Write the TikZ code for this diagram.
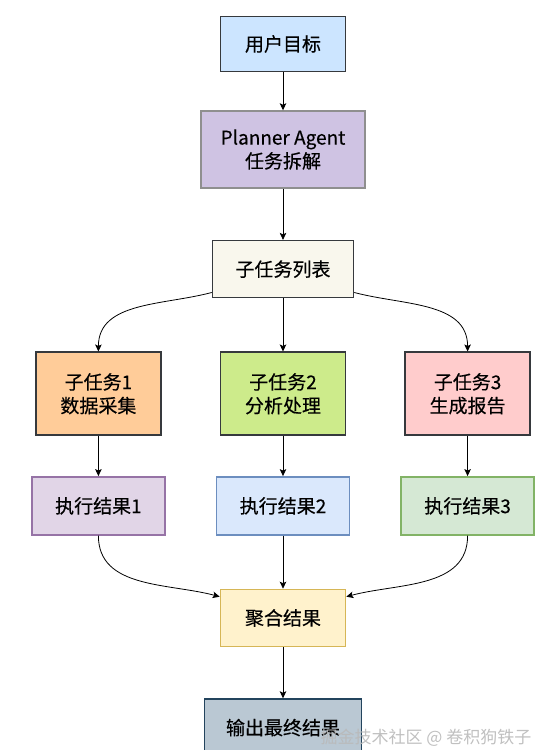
\documentclass[tikz,border=0pt]{standalone}
\usepackage{fontspec}
\setmainfont{Noto Sans CJK SC}[FakeBold=0.3]
\newfontfamily\markfont{Noto Sans CJK SC}
\usetikzlibrary{positioning,arrows.meta}

\definecolor{darkline}{HTML}{36393D}
\definecolor{goalfill}{HTML}{CCE5FF}
\definecolor{planfill}{HTML}{CFC3E3}
\definecolor{planline}{HTML}{8F8F8F}
\definecolor{listfill}{HTML}{F9F7ED}
\definecolor{onefill}{HTML}{FFCC99}
\definecolor{twofill}{HTML}{CDEB8B}
\definecolor{threefill}{HTML}{FFCCCC}
\definecolor{resAfill}{HTML}{E1D5E7}
\definecolor{resAline}{HTML}{9673A6}
\definecolor{resBfill}{HTML}{DAE8FC}
\definecolor{resBline}{HTML}{6C8EBF}
\definecolor{resCfill}{HTML}{D5E8D4}
\definecolor{resCline}{HTML}{82B366}
\definecolor{aggfill}{HTML}{FFF2CC}
\definecolor{aggline}{HTML}{D6B656}
\definecolor{outfill}{HTML}{BAC8D3}
\definecolor{outline}{HTML}{23445D}

\begin{document}
\begin{tikzpicture}[x=1pt, y=1pt, node distance=40pt,
  font=\fontsize{19}{23.6}\selectfont,
  box/.style={draw=#1, line width=1.6pt, align=center, inner sep=0pt,
    minimum width=125pt, minimum height=57pt},
  flow/.style={-{Stealth[length=7pt,width=6.5pt,inset=1.5pt]}, line width=0.8pt}]
  \useasboundingbox (0,0) rectangle (549,750);

  \node[box=darkline, fill=goalfill, minimum height=55pt] (goal) at (283,706) {用户目标};
  \node[box=planline, fill=planfill, minimum width=164pt, minimum height=77pt] (planner) [below=38pt of goal] {Planner Agent\\任务拆解};
  \node[box=darkline, fill=listfill, minimum width=141pt] (tasks) [below=51pt of planner] {子任务列表};

  % three sub tasks
  \node[box=darkline, fill=twofill, minimum height=83pt] (sub2) [below=53pt of tasks] {子任务2\\分析处理};
  \node[box=darkline, fill=onefill, minimum height=83pt] (sub1) [left=58pt of sub2] {子任务1\\数据采集};
  \node[box=darkline, fill=threefill, minimum height=83pt] (sub3) [right=58pt of sub2] {子任务3\\生成报告};

  \node[box=resAline, fill=resAfill, minimum width=133pt, minimum height=58pt] (res1) [below=40pt of sub1] {执行结果1};
  \node[box=resBline, fill=resBfill, minimum width=133pt, minimum height=58pt] (res2) [below=40pt of sub2] {执行结果2};
  \node[box=resCline, fill=resCfill, minimum width=133pt, minimum height=58pt] (res3) [below=40pt of sub3] {执行结果3};

  \node[box=aggline, fill=aggfill] (merge) [below=53pt of res2] {聚合结果};
  \node[box=outline, fill=outfill, minimum width=157pt] (final) [below=51pt of merge] {输出最终结果};

  \draw[flow] (goal) -- (planner);
  \draw[flow] (planner) -- (tasks);
  \draw[flow] ([yshift=6pt]tasks.south west) to[out=195, in=90] (sub1.north);
  \draw[flow] (tasks) -- (sub2);
  \draw[flow] ([yshift=6pt]tasks.south east) to[out=-15, in=90] (sub3.north);
  \draw[flow] (sub1) -- (res1);
  \draw[flow] (sub2) -- (res2);
  \draw[flow] (sub3) -- (res3);
  \draw[flow] (res1.south) to[out=-90, in=165] ([yshift=-8pt]merge.north west);
  \draw[flow] (res2) -- (merge);
  \draw[flow] (res3.south) to[out=-90, in=15] ([yshift=-8pt]merge.north east);
  \draw[flow] (merge) -- (final);

  % watermark
  \node[text=gray!55, opacity=0.9, font=\markfont\fontsize{17}{17}\selectfont, inner sep=0pt] (mark) at (426,12) {掘金技术社区 @ 卷积狗铁子};
\end{tikzpicture}
\end{document}
